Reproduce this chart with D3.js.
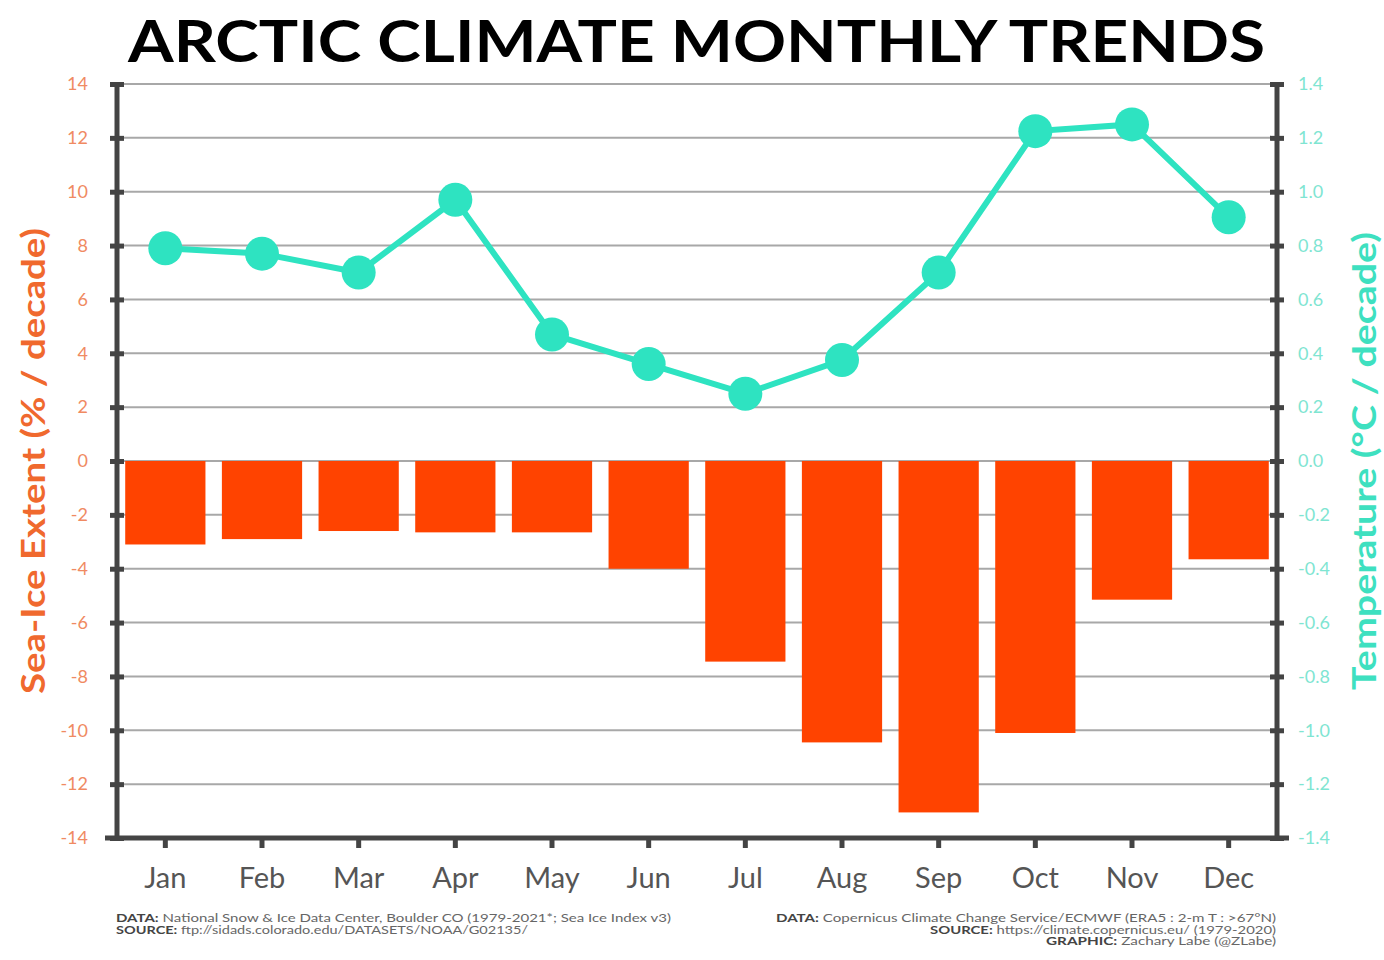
<!DOCTYPE html>
<html>
<head>
<meta charset="utf-8">
<script src="https://cdn.jsdelivr.net/npm/d3@7"></script>
<style>
  body { margin: 0; background: #fff; }
  text { font-family: "Lato", "DejaVu Sans", sans-serif; }
</style>
</head>
<body>
<svg id="drawing_region"></svg>
<script>
// monthly trends
const months = ["Jan","Feb","Mar","Apr","May","Jun","Jul","Aug","Sep","Oct","Nov","Dec"];
const seaIce = [-3.1, -2.9, -2.6, -2.65, -2.65, -4.0, -7.45, -10.45, -13.05, -10.1, -5.15, -3.65];
const temperature = [0.79, 0.77, 0.70, 0.97, 0.47, 0.36, 0.25, 0.375, 0.70, 1.225, 1.25, 0.905];
const iceTicks = [14, 12, 10, 8, 6, 4, 2, 0, -2, -4, -6, -8, -10, -12, -14];
const tempTicks = [1.4, 1.2, 1.0, 0.8, 0.6, 0.4, 0.2, 0.0, -0.2, -0.4, -0.6, -0.8, -1.0, -1.2, -1.4];

const W = 1384, H = 960;
const margin = {top: 84, right: 107, bottom: 122, left: 117};
const inner_width = W - margin.left - margin.right;
const inner_height = H - margin.top - margin.bottom;

const ICE = "#ff4300", TEMP = "#2ee3c1";

const svg = d3.select("#drawing_region")
    .attr("width", W)
    .attr("height", H);

const chart = svg.append("g")
    .attr("transform", `translate(${margin.left}, ${margin.top})`);

const xscale = d3.scaleBand()
    .domain(months)
    .range([0, inner_width])
    .paddingInner(0.17)
    .paddingOuter(0.085);

const yIce = d3.scaleLinear().domain([-14, 14]).range([inner_height, 0]);
const yTemp = d3.scaleLinear().domain([-1.4, 1.4]).range([inner_height, 0]);

// grid lines
chart.append("g")
    .selectAll("line")
    .data(iceTicks)
    .join("line")
    .attr("x1", 0)
    .attr("x2", inner_width)
    .attr("y1", d => yIce(d))
    .attr("y2", d => yIce(d))
    .attr("stroke", "#a8a8a8")
    .attr("stroke-width", 2);

// bars
chart.append("g")
    .selectAll("rect")
    .data(seaIce)
    .join("rect")
    .attr("x", (d, i) => xscale(months[i]))
    .attr("width", xscale.bandwidth())
    .attr("y", d => yIce(Math.max(0, d)))
    .attr("height", d => Math.abs(yIce(d) - yIce(0)))
    .attr("fill", ICE);

// temperature line
const line = d3.line()
    .x((d, i) => xscale(months[i]) + xscale.bandwidth() / 2)
    .y(d => yTemp(d));

chart.append("path")
    .datum(temperature)
    .attr("d", line)
    .attr("fill", "none")
    .attr("stroke", TEMP)
    .attr("stroke-width", 6);

chart.append("g")
    .selectAll("circle")
    .data(temperature)
    .join("circle")
    .attr("cx", (d, i) => xscale(months[i]) + xscale.bandwidth() / 2)
    .attr("cy", d => yTemp(d))
    .attr("r", 17)
    .attr("fill", TEMP);

// axes
const axisColor = "#444";
const hyphen = f => d => f(d).replace("\u2212", "-");

const yaxisL = d3.axisLeft(yIce).tickValues(iceTicks).tickSize(14).tickFormat(hyphen(d3.format("d")));
const yaxisR = d3.axisRight(yTemp).tickValues(tempTicks).tickSize(14).tickFormat(hyphen(d3.format(".1f")));
const xaxis = d3.axisBottom(xscale).tickSize(10).tickPadding(14);

const gl = chart.append("g").attr("transform", "translate(7,0)").call(yaxisL);
const gr = chart.append("g").attr("transform", `translate(${inner_width - 7},0)`).call(yaxisR);
const gx = chart.append("g").attr("transform", `translate(0, ${inner_height})`).call(xaxis);

[gl, gr, gx].forEach(g => {
    g.select(".domain").remove();
    g.selectAll(".tick line").attr("stroke", axisColor).attr("stroke-width", 5);
});
gl.selectAll(".tick text").attr("fill", "#f08a62").attr("font-size", 18).attr("x", -36);
gr.selectAll(".tick text").attr("fill", "#7fe5d2").attr("font-size", 18).attr("x", 28);
gx.selectAll(".tick text").attr("fill", "#555").attr("font-size", 29).attr("dy", "0.9em");

// thick frame lines
chart.append("line").attr("x1", 0).attr("x2", 0).attr("y1", 0).attr("y2", inner_height + 2)
    .attr("stroke", axisColor).attr("stroke-width", 5);
chart.append("line").attr("x1", inner_width).attr("x2", inner_width).attr("y1", 0).attr("y2", inner_height + 2)
    .attr("stroke", axisColor).attr("stroke-width", 5);
chart.append("line").attr("x1", -12).attr("x2", inner_width + 12).attr("y1", inner_height).attr("y2", inner_height)
    .attr("stroke", axisColor).attr("stroke-width", 5);

// axis titles
svg.append("text")
    .attr("transform", `translate(45, ${margin.top + inner_height / 2}) rotate(-90)`)
    .attr("text-anchor", "middle")
    .attr("font-size", 32)
    .attr("font-weight", "bold")
    .attr("fill", "#f0692e")
    .attr("textLength", 466)
    .attr("lengthAdjust", "spacingAndGlyphs")
    .text("Sea-Ice Extent (% / decade)");

svg.append("text")
    .attr("transform", `translate(1376, ${margin.top + inner_height / 2}) rotate(-90)`)
    .attr("text-anchor", "middle")
    .attr("font-size", 32)
    .attr("font-weight", "bold")
    .attr("fill", "#3ee0c0")
    .attr("textLength", 458)
    .attr("lengthAdjust", "spacingAndGlyphs")
    .text("Temperature (°C / decade)");

// title
svg.append("text")
    .attr("x", 128)
    .attr("y", 62)
    .attr("font-size", 58)
    .attr("font-weight", "bold")
    .attr("fill", "#000")
    .attr("textLength", 1137)
    .attr("lengthAdjust", "spacingAndGlyphs")
    .text("ARCTIC CLIMATE MONTHLY TRENDS");

// footer notes
const noteL = [
    ["DATA:", " National Snow & Ice Data Center, Boulder CO (1979-2021*; Sea Ice Index v3)"],
    ["SOURCE:", " ftp://sidads.colorado.edu/DATASETS/NOAA/G02135/"]
];
const noteR = [
    ["DATA:", " Copernicus Climate Change Service/ECMWF (ERA5 : 2-m T : >67°N)"],
    ["SOURCE:", " https://climate.copernicus.eu/ (1979-2020)"],
    ["GRAPHIC:", " Zachary Labe (@ZLabe)"]
];
const noteLwidth = [555, 412];
const noteRwidth = [500, 346, 230];

function notes(rows, widths, x, anchor) {
    const t = svg.append("g");
    rows.forEach((r, i) => {
        const txt = t.append("text")
            .attr("x", x)
            .attr("y", 922 + i * 11.5)
            .attr("text-anchor", anchor)
            .attr("font-size", 10.5)
            .attr("fill", "#666")
            .attr("textLength", widths[i])
            .attr("lengthAdjust", "spacingAndGlyphs");
        txt.append("tspan").attr("font-weight", "bold").attr("fill", "#444").text(r[0]);
        txt.append("tspan").text(r[1]);
    });
}
notes(noteL, noteLwidth, 116, "start");
notes(noteR, noteRwidth, 1276, "end");
</script>
</body>
</html>
